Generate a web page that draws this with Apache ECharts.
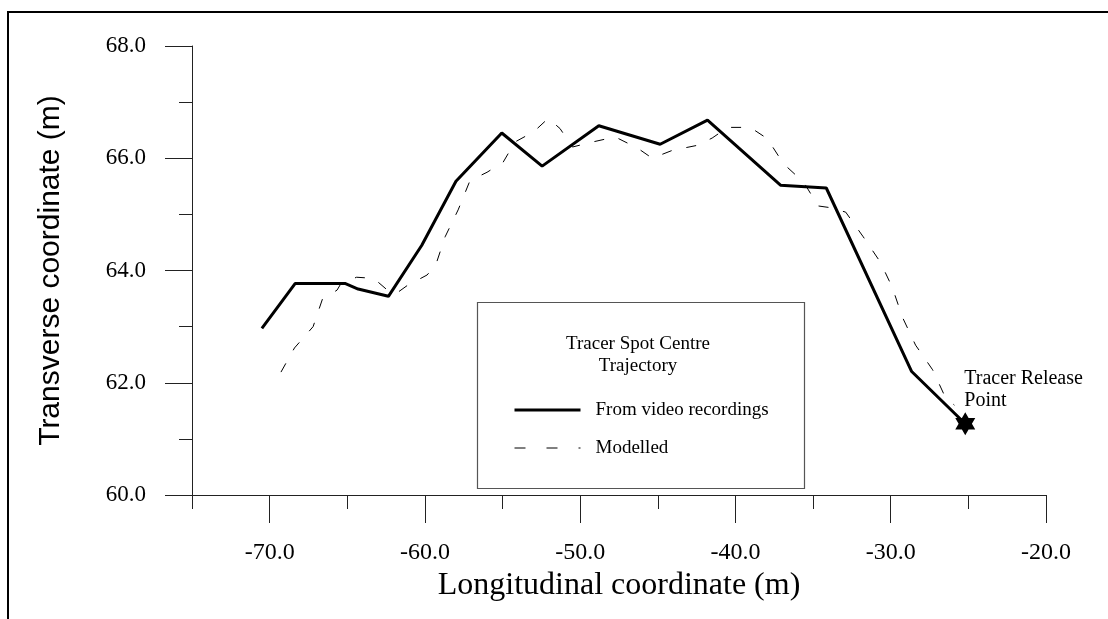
<!DOCTYPE html>
<html>
<head>
<meta charset="utf-8">
<title>Tracer Spot Centre Trajectory</title>
<script src="https://cdn.jsdelivr.net/npm/echarts@6/dist/echarts.min.js"></script>
<style>
  html, body { margin: 0; padding: 0; background: #fff; }
  #chart { width: 1108px; height: 619px; }
</style>
</head>
<body>
<div id="chart"></div>
<script>
// Tracer spot centre positions taken from the video recordings (m)
const videoX = [-70.5, -68.35, -65.15, -64.3, -62.35, -60.2, -58.0, -55.05, -52.45, -48.8, -44.85, -41.8, -37.1, -34.15, -28.65, -25.2];
const videoY = [62.97, 63.77, 63.77, 63.67, 63.54, 64.45, 65.59, 66.45, 65.86, 66.58, 66.25, 66.68, 65.52, 65.47, 62.2, 61.27];

// Modelled trajectory of the spot centre (m)
const modelX = [-69.27, -68.4, -67.2, -66.6, -65.66, -65.4, -64.4, -63.3, -62.2, -61.8, -61.15, -59.86, -59.3, -58.7, -57.86, -57.1, -56.0, -54.96, -54.2, -53.0, -52.06, -51.3, -50.5, -49.2, -47.75, -46.3, -45.36, -44.07, -42.46, -41.5, -40.5, -39.05, -37.95, -36.9, -35.6, -34.67, -33.9, -32.9, -31.77, -30.67, -29.9, -29.25, -28.4, -27.3, -26.5, -25.9];
const modelY = [62.19, 62.62, 63.0, 63.49, 63.65, 63.77, 63.88, 63.86, 63.6, 63.6, 63.73, 63.92, 64.1, 64.6, 65.08, 65.6, 65.75, 65.93, 66.29, 66.47, 66.71, 66.53, 66.2, 66.29, 66.38, 66.18, 66.0, 66.14, 66.23, 66.36, 66.55, 66.55, 66.35, 65.9, 65.57, 65.15, 65.12, 65.04, 64.6, 64.15, 63.7, 63.17, 62.67, 62.23, 61.75, 61.6];

// Where the tracer was released
const releasePoint = [-25.2, 61.27];

// Axis ranges and tick positions
const xRange = [-75, -20];
const xMajorTicks = [-70, -60, -50, -40, -30, -20];
const xMinorTicks = [-75, -65, -55, -45, -35, -25];
const yRange = [60, 68];
const yInterval = 2;

const serif = "'Liberation Serif', 'Times New Roman', serif";
const sans = "'Liberation Sans', Arial, sans-serif";

const zip = (xs, ys) => xs.map((x, i) => [x, ys[i]]);

// Six-pointed star marker
const hexagram = 'path://M0,-10 L2.887,-5 L8.66,-5 L5.774,0 L8.66,5 L2.887,5 L0,10 L-2.887,5 L-8.66,5 L-5.774,0 L-8.66,-5 L-2.887,-5 Z';

const chart = echarts.init(document.getElementById('chart'), null, { renderer: 'canvas' });

chart.setOption({
  animation: false,
  backgroundColor: '#ffffff',
  grid: { left: 192, right: 62, top: 46, bottom: 124 },
  xAxis: [
    {
      type: 'value',
      min: xRange[0],
      max: xRange[1],
      name: 'Longitudinal coordinate (m)',
      nameLocation: 'middle',
      nameGap: 74,
      nameTextStyle: { fontFamily: serif, fontSize: 32, color: '#000' },
      axisLine: { show: true, onZero: false, lineStyle: { color: '#222', width: 1 } },
      axisTick: { show: true, inside: false, length: 28, customValues: xMajorTicks, lineStyle: { color: '#222', width: 1 } },
      axisLabel: {
        customValues: xMajorTicks,
        margin: 46,
        fontFamily: serif,
        fontSize: 24,
        color: '#000',
        formatter: v => v.toFixed(1)
      },
      splitLine: { show: false }
    },
    {
      // secondary scale carrying the short in-between ticks
      type: 'value',
      position: 'bottom',
      min: xRange[0],
      max: xRange[1],
      axisLine: { show: false, onZero: false },
      axisTick: { show: true, inside: false, length: 14, customValues: xMinorTicks, lineStyle: { color: '#222', width: 1 } },
      axisLabel: { show: false },
      splitLine: { show: false }
    }
  ],
  yAxis: {
    type: 'value',
    min: yRange[0],
    max: yRange[1],
    interval: yInterval,
    name: 'Transverse coordinate (m)',
    nameLocation: 'middle',
    nameRotate: 90,
    nameGap: 126,
    nameTextStyle: { fontFamily: sans, fontSize: 30, color: '#000' },
    axisLine: { show: true, onZero: false, lineStyle: { color: '#222', width: 1 } },
    axisTick: { show: true, inside: false, length: 27, lineStyle: { color: '#222', width: 1 } },
    minorTick: { show: true, splitNumber: 2, length: 13, lineStyle: { color: '#222', width: 1 } },
    axisLabel: {
      margin: 46,
      fontFamily: serif,
      fontSize: 23,
      color: '#000',
      formatter: v => v.toFixed(1)
    },
    splitLine: { show: false },
    minorSplitLine: { show: false }
  },
  legend: {
    data: [
      { name: 'From video recordings', lineStyle: { width: 3 } },
      { name: 'Modelled', lineStyle: { width: 1, type: [11, 21] } }
    ],
    orient: 'vertical',
    left: 508,
    top: 395,
    itemWidth: 66,
    itemHeight: 14,
    itemGap: 18,
    selectedMode: false,
    itemStyle: { opacity: 0 },
    textStyle: { fontFamily: serif, fontSize: 19, color: '#000', lineHeight: 20, padding: [0, 0, 0, 10] }
  },
  graphic: [
    // outer frame (top and left edges)
    { type: 'line', shape: { x1: 7, y1: 12, x2: 1108, y2: 12 }, style: { stroke: '#000', lineWidth: 2 }, z: 10 },
    { type: 'line', shape: { x1: 8, y1: 11, x2: 8, y2: 619 }, style: { stroke: '#000', lineWidth: 2 }, z: 10 },
    // legend box and its heading
    { type: 'rect', shape: { x: 477.5, y: 302.5, width: 327, height: 186 }, style: { fill: '#fff', stroke: '#555', lineWidth: 1.2 }, z: 1 },
    {
      type: 'text', x: 638, y: 355, z: 5,
      style: {
        text: 'Tracer Spot Centre\nTrajectory',
        fontFamily: serif, fontSize: 19, lineHeight: 22,
        fill: '#000', align: 'center', verticalAlign: 'middle'
      }
    }
  ],
  series: [
    {
      name: 'From video recordings',
      type: 'line',
      data: zip(videoX, videoY),
      symbol: 'none',
      lineStyle: { color: '#000', width: 3 },
      itemStyle: { color: '#000' },
      z: 4
    },
    {
      name: 'Modelled',
      type: 'line',
      data: zip(modelX, modelY),
      symbol: 'none',
      lineStyle: { color: '#000', width: 1, type: [10, 15] },
      itemStyle: { color: '#000' },
      z: 3
    },
    {
      name: 'Tracer Release Point',
      type: 'scatter',
      data: [releasePoint],
      symbol: hexagram,
      symbolSize: [20, 23],
      itemStyle: { color: '#000', opacity: 1 },
      label: {
        show: true,
        formatter: 'Tracer Release\nPoint',
        position: 'top',
        align: 'left',
        verticalAlign: 'bottom',
        distance: 4,
        offset: [-1, 4],
        fontFamily: serif,
        fontSize: 20,
        lineHeight: 22,
        color: '#000'
      },
      z: 6
    }
  ]
});
</script>
</body>
</html>
